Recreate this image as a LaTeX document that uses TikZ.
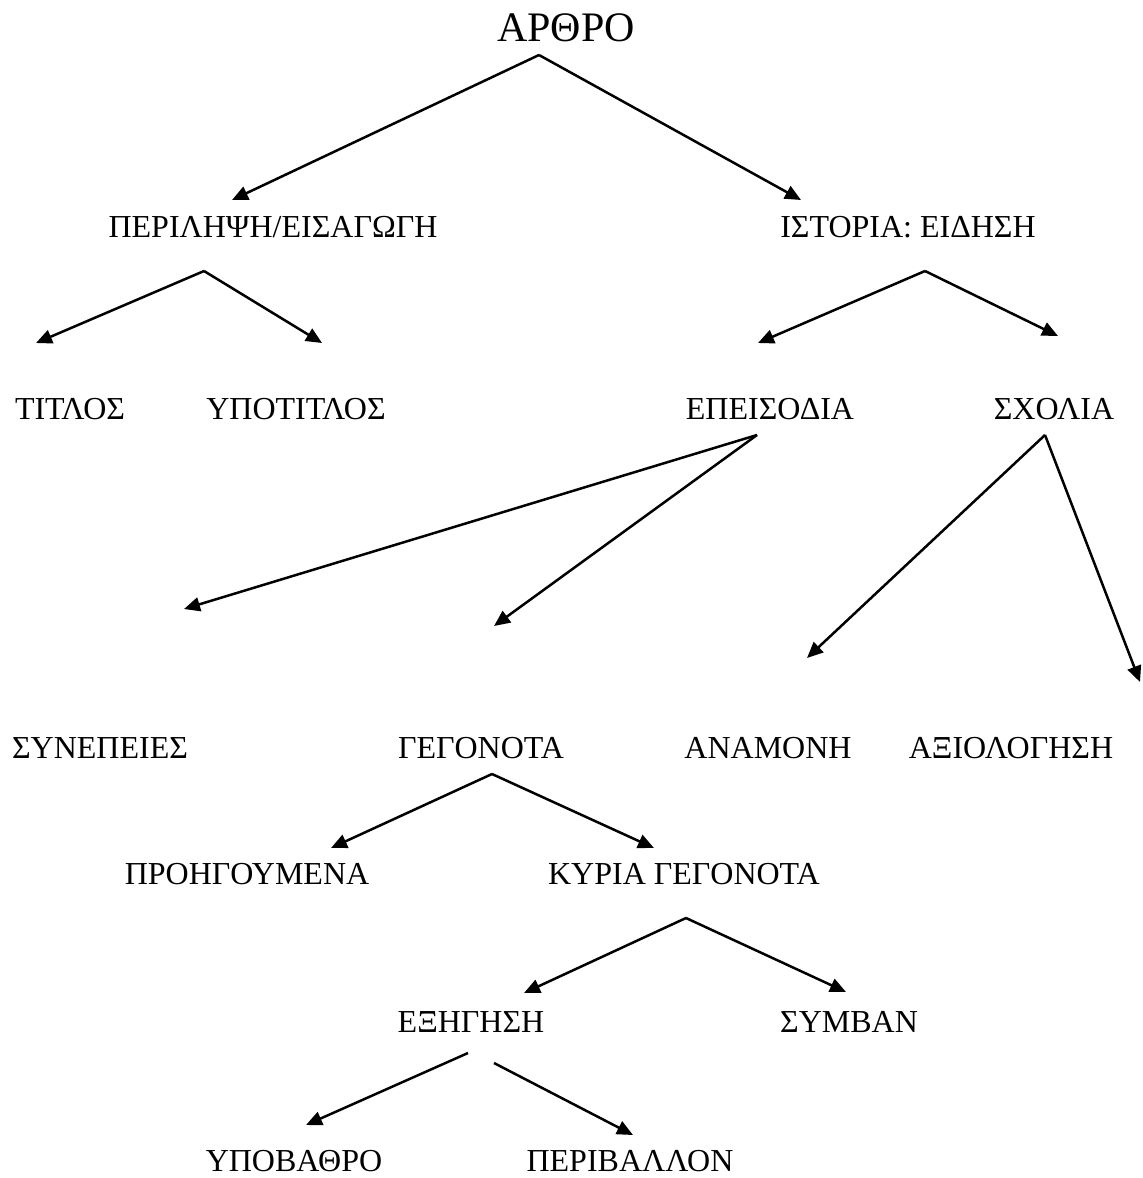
\documentclass[tikz,border=0pt]{standalone}
\usepackage{fontspec}
\setmainfont{Liberation Serif}
\usetikzlibrary{arrows.meta}

\begin{document}
\begin{tikzpicture}[x=0.5pt,y=-0.5pt,
  lbl/.style={anchor=base,inner sep=0pt,font=\fontsize{16}{19}\selectfont},
  edge/.style={line width=1.25pt,-{Triangle[length=8pt,width=7pt]}}]
  \useasboundingbox (0,0) rectangle (1142,1178);

  % Root
  \node[lbl,font=\fontsize{21}{25}\selectfont] (arthro) at (566,41) {ΑΡΘΡΟ};

  % Level 1
  \node[lbl] (perilipsi) at (273,237) {ΠΕΡΙΛΗΨΗ/ΕΙΣΑΓΩΓΗ};
  \node[lbl] (istoria) at (908,237) {ΙΣΤΟΡΙΑ: ΕΙΔΗΣΗ};

  % Level 2
  \node[lbl] (titlos) at (70,419) {ΤΙΤΛΟΣ};
  \node[lbl] (ypotitlos) at (296,419) {ΥΠΟΤΙΤΛΟΣ};
  \node[lbl] (epeisodia) at (770,419) {ΕΠΕΙΣΟΔΙΑ};
  \node[lbl] (sxolia) at (1054,419) {ΣΧΟΛΙΑ};

  % Level 3
  \node[lbl] (synepeies) at (100,758) {ΣΥΝΕΠΕΙΕΣ};
  \node[lbl] (gegonota) at (481,758) {ΓΕΓΟΝΟΤΑ};
  \node[lbl] (anamoni) at (768,758) {ΑΝΑΜΟΝΗ};
  \node[lbl] (axiologisi) at (1011,758) {ΑΞΙΟΛΟΓΗΣΗ};

  % Level 4
  \node[lbl] (proigoumena) at (247,884) {ΠΡΟΗΓΟΥΜΕΝΑ};
  \node[lbl] (kyria) at (684,884) {ΚΥΡΙΑ ΓΕΓΟΝΟΤΑ};

  % Level 5
  \node[lbl] (eksigisi) at (471,1032) {ΕΞΗΓΗΣΗ};
  \node[lbl] (symvan) at (849,1032) {ΣΥΜΒΑΝ};

  % Level 6
  \node[lbl] (ypovathro) at (294,1171) {ΥΠΟΒΑΘΡΟ};
  \node[lbl] (perivallon) at (630,1171) {ΠΕΡΙΒΑΛΛΟΝ};

  % Arrow ends
  \coordinate (arthro-out) at (539,55);
  \coordinate (perilipsi-in) at (232,200);
  \coordinate (istoria-in) at (801,200);
  \coordinate (perilipsi-out) at (204,271);
  \coordinate (titlos-in) at (36,343);
  \coordinate (ypotitlos-in) at (322,343);
  \coordinate (istoria-out) at (925,271);
  \coordinate (epeisodia-in) at (758,343);
  \coordinate (sxolia-in) at (1058,336);
  \coordinate (epeisodia-out) at (757,435);
  \coordinate (synepeies-in) at (184,609);
  \coordinate (gegonota-in) at (494,626);
  \coordinate (sxolia-out) at (1045,435);
  \coordinate (anamoni-in) at (807,658);
  \coordinate (axiologisi-in) at (1140,682);
  \coordinate (gegonota-out) at (492,774);
  \coordinate (proigoumena-in) at (331,848);
  \coordinate (kyria-in) at (654,848);
  \coordinate (kyria-out) at (686,918);
  \coordinate (eksigisi-in) at (524,993);
  \coordinate (symvan-in) at (846,992);
  \coordinate (eksigisi-out1) at (468,1053);
  \coordinate (eksigisi-out2) at (494,1063);
  \coordinate (ypovathro-in) at (306,1125);
  \coordinate (perivallon-in) at (633,1135);

  % Connectors
  \draw[edge] (arthro-out) -- (perilipsi-in);
  \draw[edge] (arthro-out) -- (istoria-in);
  \draw[edge] (perilipsi-out) -- (titlos-in);
  \draw[edge] (perilipsi-out) -- (ypotitlos-in);
  \draw[edge] (istoria-out) -- (epeisodia-in);
  \draw[edge] (istoria-out) -- (sxolia-in);
  \draw[edge] (epeisodia-out) -- (synepeies-in);
  \draw[edge] (epeisodia-out) -- (gegonota-in);
  \draw[edge] (sxolia-out) -- (anamoni-in);
  \draw[edge] (sxolia-out) -- (axiologisi-in);
  \draw[edge] (gegonota-out) -- (proigoumena-in);
  \draw[edge] (gegonota-out) -- (kyria-in);
  \draw[edge] (kyria-out) -- (eksigisi-in);
  \draw[edge] (kyria-out) -- (symvan-in);
  \draw[edge] (eksigisi-out1) -- (ypovathro-in);
  \draw[edge] (eksigisi-out2) -- (perivallon-in);
\end{tikzpicture}
\end{document}
